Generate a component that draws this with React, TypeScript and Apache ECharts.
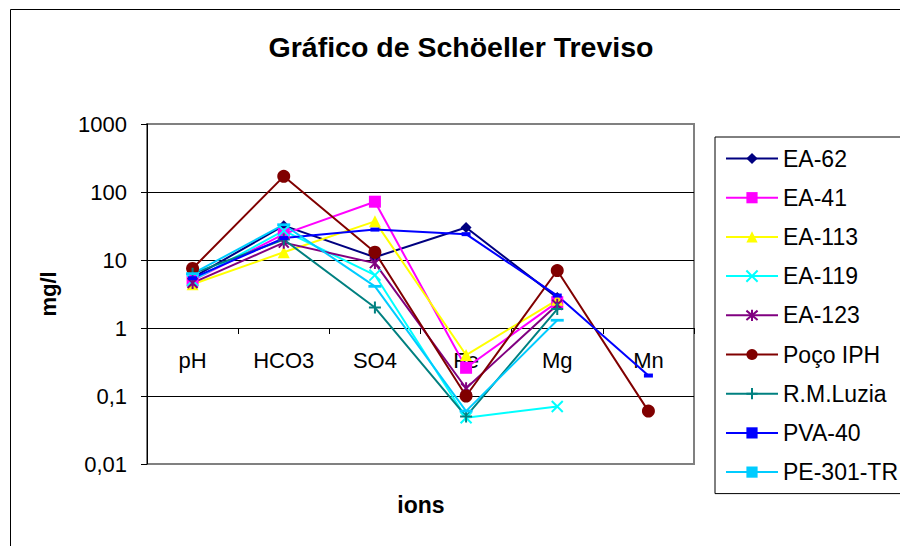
import React, { useEffect, useRef } from "react";
import * as echarts from "echarts";

const categories = ["pH", "HCO3", "SO4", "Fe", "Mg", "Mn"];
const yTicks = [0.01, 0.1, 1, 10, 100, 1000];

const ea62 = [5.5, 32, 11, 30, 2.8, null];
const ea41 = [5.0, 24, 72, 0.26, 2.4, null];
const ea113 = [4.4, 13, 37, 0.4, 2.6, null];
const ea119 = [5.0, 27, 6, 0.048, 0.07, null];
const ea123 = [4.6, 18, 9, 0.13, 2.2, null];
const pocoIPH = [7.5, 170, 13, 0.1, 7, 0.06];
const rmLuzia = [6.3, 20, 2, 0.05, 1.9, null];
const pva40 = [5.4, 21, 28, 24, 3.0, 0.2];
const pe301 = [6.3, 33, 4.1, 0.06, 1.3, null];

const X_PATH = "path://M0,0L10,10M10,0L0,10";
const STAR_PATH = "path://M0,0L10,10M10,0L0,10M5,-1L5,11";
const PLUS_PATH = "path://M5,0L5,10M0,5L10,5";
const SMALL_RECT = "path://M0,0L9,0L9,6L0,6Z";
const WIDE_RECT = "path://M0,0L13,0L13,6L0,6Z";

const seriesDefs = [
  { name: "EA-62", data: ea62, color: "#000080", symbol: "diamond", size: 11, stroke: false },
  { name: "EA-41", data: ea41, color: "#FF00FF", symbol: "rect", size: 12, stroke: false },
  { name: "EA-113", data: ea113, color: "#FFFF00", symbol: "triangle", size: 12, stroke: false },
  { name: "EA-119", data: ea119, color: "#00FFFF", symbol: X_PATH, size: 11, stroke: true },
  { name: "EA-123", data: ea123, color: "#800080", symbol: STAR_PATH, size: 12, stroke: true },
  { name: "Poço IPH", data: pocoIPH, color: "#800000", symbol: "circle", size: 13, stroke: false },
  { name: "R.M.Luzia", data: rmLuzia, color: "#008080", symbol: PLUS_PATH, size: 12, stroke: true },
  { name: "PVA-40", data: pva40, color: "#0000FF", symbol: SMALL_RECT, size: [9, 6], stroke: false },
  { name: "PE-301-TR", data: pe301, color: "#00CCFF", symbol: WIDE_RECT, size: [13, 6], stroke: false },
];

const FONT = "'Liberation Sans', Arial, sans-serif";

export default function App() {
  const ref = useRef<HTMLDivElement>(null);

  useEffect(() => {
    if (!ref.current) return;
    const chart = echarts.init(ref.current, null, { renderer: "svg" });
    const option: any = {
      animation: false,
      backgroundColor: "#ffffff",
      textStyle: { fontFamily: FONT },
      title: [
        {
          text: "Gráfico de Schöeller Treviso",
          left: 461,
          top: 32,
          textAlign: "center",
          padding: 0,
          textStyle: { fontFamily: FONT, fontSize: 28.5, fontWeight: "bold", color: "#000" },
        },
        {
          text: "ions",
          left: 421,
          top: 493,
          textAlign: "center",
          padding: 0,
          textStyle: { fontFamily: FONT, fontSize: 23, fontWeight: "bold", color: "#000" },
        },
      ],
      graphic: [
        {
          type: "rect",
          left: 8,
          top: 7,
          shape: { x: 0, y: 0, width: 920, height: 600 },
          style: { fill: "none", stroke: "#000", lineWidth: 1 },
          z: -10,
          silent: true,
        },
      ],
      legend: {
        orient: "vertical",
        left: 715,
        top: 137,
        padding: [10, 30, 10, 10],
        itemWidth: 52,
        itemHeight: 14,
        itemGap: 16.2,
        borderColor: "#000",
        borderWidth: 1,
        backgroundColor: "#fff",
        textStyle: { fontFamily: FONT, fontSize: 23, lineHeight: 23, color: "#000" },
        data: seriesDefs.map((s) => s.name),
      },
      grid: {
        left: 147,
        right: 206,
        top: 124,
        bottom: 82,
        show: true,
        borderColor: "#808080",
        borderWidth: 2,
        backgroundColor: "#fff",
      },
      xAxis: {
        type: "category",
        data: categories,
        boundaryGap: true,
        offset: -136,
        axisLine: { show: true, onZero: false, lineStyle: { color: "#000", width: 1 } },
        axisTick: { show: true, length: 6, lineStyle: { color: "#000" } },
        axisLabel: { fontFamily: FONT, fontSize: 22, color: "#000", margin: 21 },
        splitLine: { show: false },
      },
      yAxis: {
        type: "log",
        logBase: 10,
        min: yTicks[0],
        max: yTicks[yTicks.length - 1],
        name: "mg/l",
        nameLocation: "middle",
        nameGap: 88,
        nameTextStyle: { fontFamily: FONT, fontSize: 22, fontWeight: "bold", color: "#000" },
        axisLine: { show: true, lineStyle: { color: "#000", width: 1 } },
        axisTick: { show: true, length: 6, lineStyle: { color: "#000" } },
        axisLabel: {
          fontFamily: FONT,
          fontSize: 22,
          color: "#000",
          margin: 20,
          formatter: (v: number) => String(v).replace(".", ","),
        },
        splitLine: {
          show: true,
          lineStyle: {
            color: ["transparent", "#000", "#000", "#000", "#000", "transparent"],
            width: 1,
          },
        },
      },
      series: seriesDefs.map((s) => ({
        name: s.name,
        type: "line",
        data: s.data,
        symbol: s.symbol,
        symbolSize: s.size,
        symbolKeepAspect: true,
        showSymbol: true,
        lineStyle: { color: s.color, width: 2 },
        itemStyle: {
          color: s.color,
          borderColor: s.color,
          borderWidth: s.stroke ? 2 : 0,
        },
        emphasis: { disabled: true },
      })),
    };
    chart.setOption(option);
    return () => chart.dispose();
  }, []);

  return <div ref={ref} style={{ width: 900, height: 546, position: "absolute", left: 0, top: 0 }} />;
}
